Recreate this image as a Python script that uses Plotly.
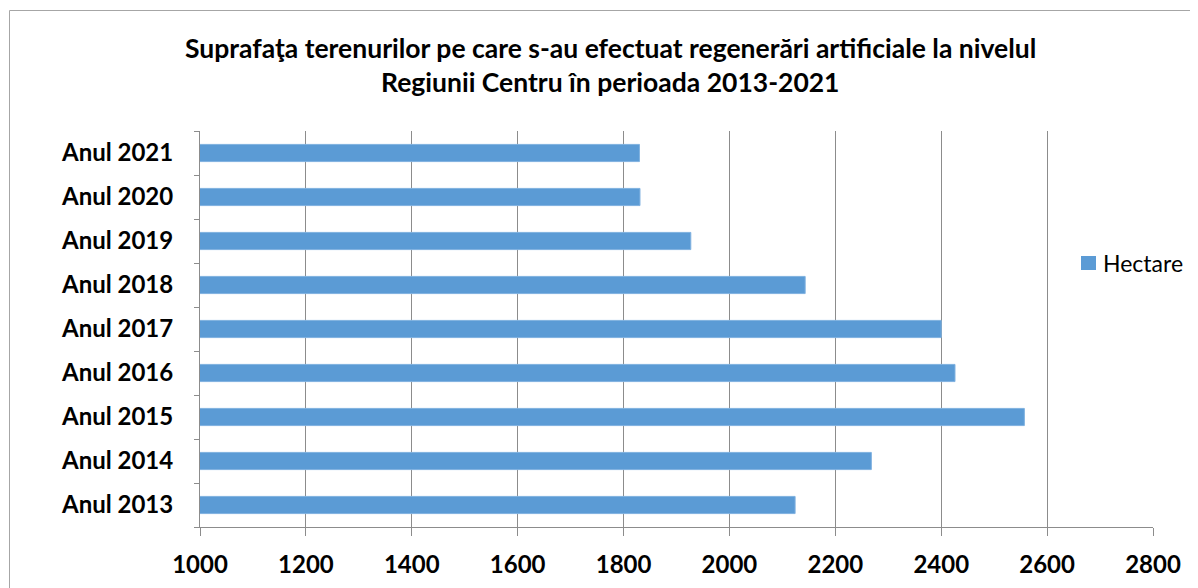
import plotly.graph_objects as go

categories = ["Anul 2013", "Anul 2014", "Anul 2015", "Anul 2016", "Anul 2017",
              "Anul 2018", "Anul 2019", "Anul 2020", "Anul 2021"]
hectare = [2124, 2268, 2557, 2426, 2400, 2143, 1927, 1831, 1830]
x_ticks = [1000, 1200, 1400, 1600, 1800, 2000, 2200, 2400, 2600, 2800]
title_line1 = "Suprafaţa terenurilor pe care s-au efectuat regenerări artificiale la nivelul"
title_line2 = "Regiunii Centru în perioada 2013-2021"
series_name = "Hectare"

# page body has an 8px margin; figure is sized so it ends at the window edge
OFF = 8
W, H = 1198 - OFF, 588 - OFF
L, R, T, B = 200 - OFF, 45, 131 - OFF, 61
pw, ph = W - L - R, H - T - B

def px_x(p):  # p = pixel x in the window
    return (p - OFF - L) / pw

def px_y(p):  # p = pixel y in the window
    return (H - B - (p - OFF)) / ph

FONT = "Lato"
GRID = "#8c8c8c"
BAR = "#5B9BD5"

fig = go.Figure()
fig.add_trace(go.Bar(
    y=categories, x=hectare, orientation="h", name=series_name,
    marker=dict(color=BAR, line=dict(color="#7fb1e0", width=1)),
    base=0, showlegend=False,
))

fig.update_layout(
    width=W, height=H,
    margin=dict(l=L, r=R, t=T, b=B, autoexpand=False),
    paper_bgcolor="white", plot_bgcolor="white",
    bargap=0.61,
    xaxis=dict(range=[1000, 2800], tickvals=x_ticks, ticktext=[str(v) for v in x_ticks],
               showgrid=True, gridcolor=GRID, gridwidth=1,
               showline=True, linecolor=GRID, linewidth=1,
               ticks="outside", ticklen=8, tickcolor=GRID, tickwidth=1,
               ticklabelstandoff=8,
               tickfont=dict(family=FONT, size=24, color="#000000", weight="bold"),
               zeroline=False, fixedrange=True, automargin=False),
    yaxis=dict(type="category", categoryorder="array", categoryarray=categories,
               showgrid=False, showline=True, linecolor=GRID, linewidth=1,
               ticks="outside", ticklen=5, tickcolor=GRID, tickwidth=1,
               tickson="boundaries", ticklabelstandoff=21,
               tickfont=dict(family=FONT, size=24, color="#000000", weight="bold"),
               fixedrange=True, automargin=False),
    annotations=[
        dict(text=title_line1, xref="paper", yref="paper", x=px_x(610), y=px_y(48),
             xanchor="center", yanchor="middle", showarrow=False,
             font=dict(family=FONT, size=26.5, color="#000000", weight="bold")),
        dict(text=title_line2, xref="paper", yref="paper", x=px_x(610), y=px_y(82),
             xanchor="center", yanchor="middle", showarrow=False,
             font=dict(family=FONT, size=26.5, color="#000000", weight="bold")),
        # legend entry
        dict(text=series_name, xref="paper", yref="paper", x=px_x(1101), y=px_y(263),
             xanchor="left", yanchor="middle", showarrow=False,
             font=dict(family=FONT, size=23, color="#000000")),
    ],
    shapes=[
        dict(type="line", xref="paper", yref="paper", x0=px_x(9.5), x1=px_x(1210),
             y0=px_y(10.5), y1=px_y(10.5), line=dict(color="#a6a6a6", width=1)),
        dict(type="line", xref="paper", yref="paper", x0=px_x(9.5), x1=px_x(9.5),
             y0=px_y(10.5), y1=px_y(600), line=dict(color="#a6a6a6", width=1)),
        # legend swatch
        dict(type="rect", xref="paper", yref="paper", x0=px_x(1081), x1=px_x(1096),
             y0=px_y(270), y1=px_y(256), fillcolor=BAR, line=dict(width=0)),
    ],
)

fig.write_html("out.html")
